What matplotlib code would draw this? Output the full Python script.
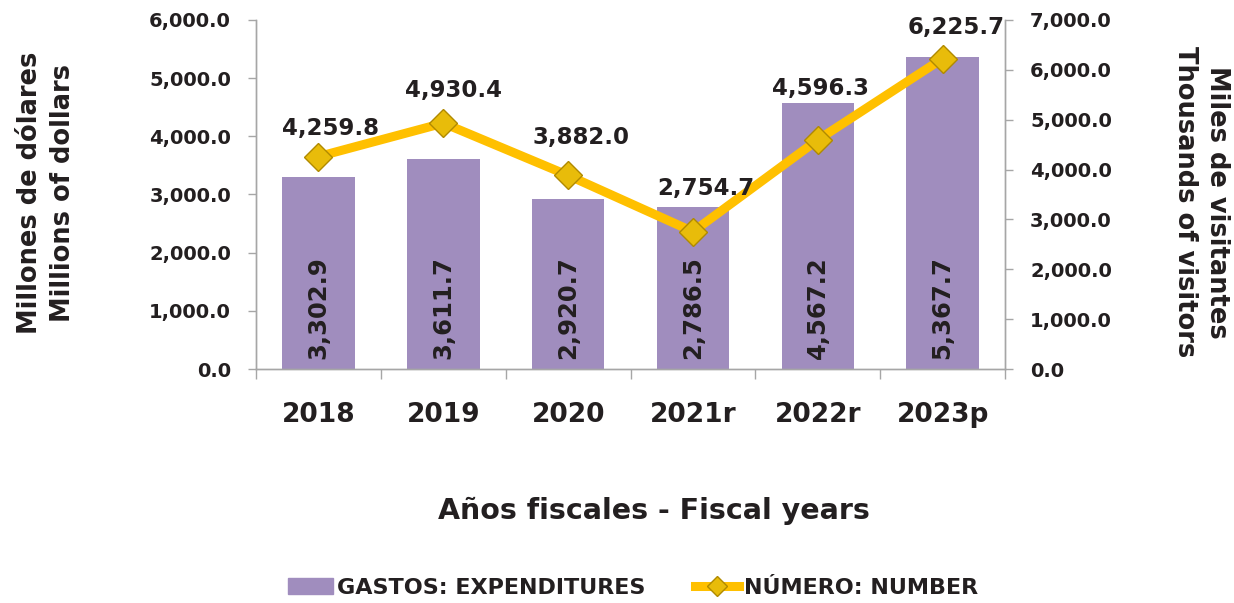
import matplotlib
matplotlib.use("Agg")
import matplotlib.pyplot as plt
from matplotlib.ticker import FuncFormatter, MultipleLocator

years = ["2018", "2019", "2020", "2021r", "2022r", "2023p"]
expenditures = [3302.9, 3611.7, 2920.7, 2786.5, 4567.2, 5367.7]
visitors = [4259.8, 4930.4, 3882.0, 2754.7, 4596.3, 6225.7]

BAR = "#A08DBE"
LINE = "#FFC000"
TXT = "#231F20"
AX = "#A6A6A6"

plt.rcParams["font.family"] = ["DejaVu Sans"]
plt.rcParams["font.weight"] = "bold"

fig = plt.figure(figsize=(12.34, 6.03), dpi=100)
ax = fig.add_axes([0.2075, 0.388, 0.607, 0.579])
ax2 = ax.twinx()

x = list(range(len(years)))
ax.bar(x, expenditures, width=0.58, color=BAR, zorder=2)
ax.set_xlim(-0.5, len(years) - 0.5)
ax.set_ylim(0, 6000)
ax.yaxis.set_major_locator(MultipleLocator(1000))
ax2.set_ylim(0, 7000)
ax2.yaxis.set_major_locator(MultipleLocator(1000))

fmt = FuncFormatter(lambda v, p: f"{v:,.1f}")
ax.yaxis.set_major_formatter(fmt)
ax2.yaxis.set_major_formatter(fmt)

for a in (ax, ax2):
    a.spines["top"].set_visible(False)
    for s in ("left", "right", "bottom"):
        a.spines[s].set_color(AX)
        a.spines[s].set_linewidth(1)
    a.tick_params(axis="y", colors=AX, labelcolor=TXT, labelsize=14,
                  length=6, width=1, pad=12)

ax.set_xticks([i - 0.5 for i in range(len(years) + 1)])
ax.set_xticklabels([])
ax.tick_params(axis="x", colors=AX, length=7, width=1)
for i, y in enumerate(years):
    ax.text(i, -0.095, y, transform=ax.get_xaxis_transform(), ha="center",
            va="top", fontsize=19, fontweight="bold", color=TXT)

for i, v in enumerate(expenditures):
    ax.annotate(f"{v:,.1f}", (i, 0), xytext=(0, 7), textcoords="offset points",
                rotation=90, ha="center", va="bottom", fontsize=17.5,
                fontweight="bold", color=TXT, zorder=5)

ax2.plot(x, visitors, color=LINE, lw=6.5, zorder=3, solid_joinstyle="miter",
         marker="D", markersize=14, markerfacecolor="#E8BC0A",
         markeredgecolor="#B08A00", markeredgewidth=1)

# label offsets (points) so the numbers sit where the original puts them
offsets = [(9, 12), (7, 15), (9, 19), (9, 23), (2, 29), (10, 14)]
for i, v in enumerate(visitors):
    ax2.annotate(f"{v:,.1f}", (i, v), xytext=offsets[i],
                 textcoords="offset points", ha="center", va="bottom",
                 fontsize=16.5, fontweight="bold", color=TXT, zorder=6)

fig.text(0.024, 0.68, "Millones de dólares", rotation=90, ha="center",
         va="center", fontsize=18.5, fontweight="bold", color=TXT)
fig.text(0.051, 0.68, "Millions of dollars", rotation=90, ha="center",
         va="center", fontsize=18.5, fontweight="bold", color=TXT)
fig.text(0.986, 0.665, "Miles de visitantes", rotation=270, ha="center",
         va="center", fontsize=18.5, fontweight="bold", color=TXT)
fig.text(0.960, 0.665, "Thousands of visitors", rotation=270, ha="center",
         va="center", fontsize=18.5, fontweight="bold", color=TXT)

fig.text(0.53, 0.153, "Años fiscales - Fiscal years", ha="center",
         va="center", fontsize=20.5, fontweight="bold", color=TXT)

h1 = plt.Rectangle((0, 0), 1, 1, color=BAR)
h2 = plt.Line2D([], [], color=LINE, lw=6.5, marker="D", markersize=10,
                markerfacecolor="#E8BC0A", markeredgecolor="#B08A00")
fig.legend([h1, h2], ["GASTOS: EXPENDITURES", "NÚMERO: NUMBER"],
           loc="center", bbox_to_anchor=(0.513, 0.025), ncol=2, frameon=False,
           prop={"size": 16, "weight": "bold"}, handlelength=2.0,
           handletextpad=0.2, columnspacing=2.2, labelcolor=TXT)

fig.savefig("out.png", dpi=100)
